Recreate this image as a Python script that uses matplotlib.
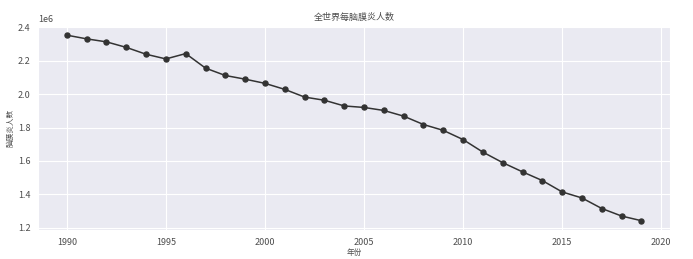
import matplotlib
matplotlib.use("Agg")
import matplotlib.pyplot as plt
import seaborn as sns

# data
years = list(range(1990, 2020))
cases = [2.352, 2.330, 2.312, 2.279, 2.238, 2.210, 2.242, 2.155, 2.111, 2.089,
         2.064, 2.028, 1.982, 1.963, 1.929, 1.920, 1.902, 1.868, 1.818, 1.783,
         1.728, 1.653, 1.590, 1.535, 1.483, 1.415, 1.379, 1.316, 1.271, 1.243]
cases = [v * 1e6 for v in cases]

sns.set_style("darkgrid", {"grid.linewidth": 0.8})
plt.rcParams['font.family'] = ['Noto Sans CJK SC', 'DejaVu Sans']
plt.rcParams['axes.unicode_minus'] = False
plt.rcParams['text.color'] = '0.3'
plt.rcParams['axes.labelcolor'] = '0.3'
plt.rcParams['xtick.color'] = '0.3'
plt.rcParams['ytick.color'] = '0.3'

fig = plt.figure(figsize=(6.93, 2.59), dpi=100)
ax = fig.add_axes([0.055, 0.112, 0.912, 0.788])
ax.plot(years, cases, color='0.2', marker='o', markersize=3.6, linewidth=1.1)

ax.set_title("全世界每脑膜炎人数", fontsize=6.5, pad=4)
ax.set_xlabel("年份", fontsize=5.5, labelpad=2)
ax.set_ylabel("脑膜炎人数", fontsize=5.5, labelpad=2)
ax.tick_params(labelsize=6.5, pad=2)
ax.yaxis.get_offset_text().set_fontsize(6.5)

fig.savefig("out.png", dpi=100)
